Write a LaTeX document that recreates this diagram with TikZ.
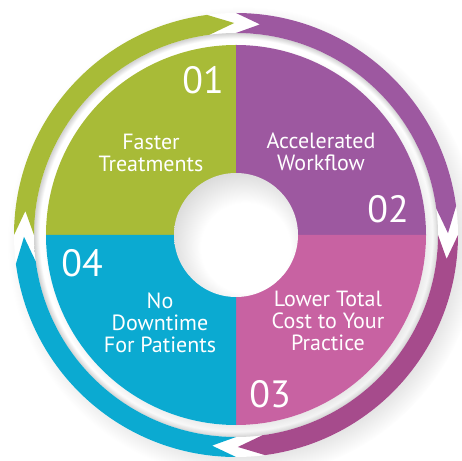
\documentclass[tikz,border=0pt]{standalone}
\usepackage{fontspec}
\setmainfont{PT Sans}
\usetikzlibrary{shadows,fadings}

\definecolor{vert}{HTML}{A8BB37}
\definecolor{violet}{HTML}{9D58A0}
\definecolor{rose}{HTML}{C862A2}
\definecolor{roseanneau}{HTML}{A64B8C}
\definecolor{bleu}{HTML}{0BAAD1}

\pgfdeclareradialshading{ombreanneau}{\pgfpoint{0bp}{0bp}}{color(0bp)=(white); color(24.3bp)=(white); color(25bp)=(black!18); color(50bp)=(black!18)}
\pgfdeclareradialshading{ombretrou}{\pgfpoint{6bp}{-8bp}}{color(0bp)=(white); color(18bp)=(white); color(40bp)=(black!28); color(50bp)=(black!28)}

\tikzset{
  etape/.style={text=white, align=center, font=\fontsize{22}{22}\selectfont},
  numero/.style={text=white, font=\fontsize{38}{38}\selectfont}
}

\begin{document}
\begin{tikzpicture}[x=1pt,y=1pt]
    \useasboundingbox (0,0) rectangle (462,460);
    \coordinate (O) at (236,225);
    % ombres
    \fill[white, circular drop shadow={shadow xshift=7pt, shadow yshift=-7pt, shadow scale=1.06, opacity=.3}] (O) circle (222);
    \shade[shading=ombreanneau] (O) circle (202);
    % fleches de l'anneau
    \foreach \s/\col in {180/vert, 90/violet, 0/roseanneau, -90/bleu}{
        \pgfmathsetmacro{\base}{\s-82.5}
        \pgfmathsetmacro{\pointe}{\s-89.5}
        \pgfmathsetmacro{\encoche}{\s-6.5}
        \fill[\col] ([shift={(\s:222)}]O) arc[start angle=\s, end angle=\base, radius=222]
            -- ([shift={(\pointe:212)}]O) -- ([shift={(\base:202)}]O)
            arc[start angle=\base, end angle=\s, radius=202]
            -- ([shift={(\encoche:212)}]O) -- cycle;
    }
    % disque
    \fill[white, circular drop shadow={shadow xshift=4pt, shadow yshift=-5pt, shadow scale=1.03, opacity=.4}] (O) circle (190);
    \foreach \a/\col in {90/vert, 0/violet, -90/rose, 180/bleu}
        \fill[\col] (O) -- ([shift={(\a:190)}]O) arc[start angle=\a, delta angle=90, radius=190] -- cycle;
    \shade[shading=ombretrou] (O) circle (62);
    % textes
    \node[numero] (n1) at (203,380) {01};
    \node[numero] (n2) at (388,251) {02};
    \node[numero] (n3) at (270,66) {03};
    \node[numero] (n4) at (82,197) {04};
    \node[etape] (t1) at (151,307.5) {Faster\\Treatments};
    \node[etape] (t2) at (321,308) {Accelerated\\Workflow};
    \node[etape] (t3) at (328,139) {Lower Total\\Cost to Your\\Practice};
    \node[etape] (t4) at (160,137.5) {No\\Downtime\\For Patients};
\end{tikzpicture}
\end{document}
